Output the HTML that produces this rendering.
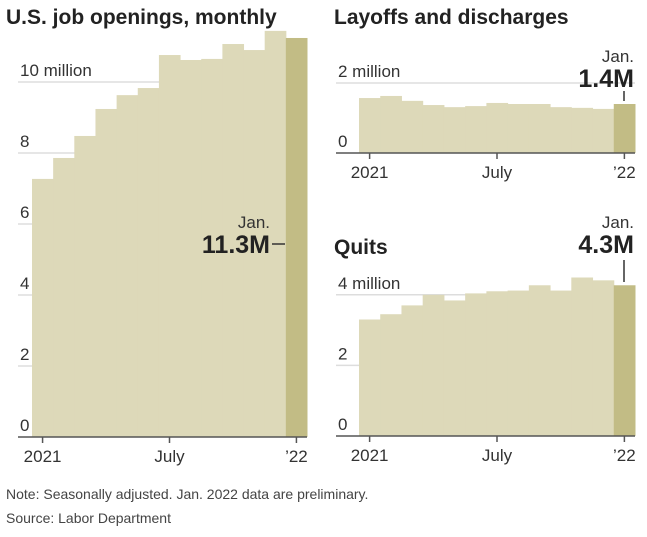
<!DOCTYPE html>
<html><head><meta charset="utf-8"><style>
body{margin:0;background:#fff;width:647px;height:537px;overflow:hidden;font-family:"Liberation Sans",sans-serif}
svg{display:block}
</style></head><body>
<svg id="c" width="647" height="537" font-family="Liberation Sans, sans-serif"></svg>
<script>
const months=["Jan","Feb","Mar","Apr","May","Jun","Jul","Aug","Sep","Oct","Nov","Dec","Jan22"];
const openings=[7.27,7.86,8.48,9.24,9.63,9.83,10.76,10.62,10.65,11.07,10.9,11.44,11.24];
const layoffs=[1.57,1.63,1.49,1.37,1.31,1.34,1.43,1.40,1.40,1.31,1.29,1.26,1.40];
const quits=[3.30,3.45,3.70,4.0,3.84,4.04,4.10,4.12,4.27,4.12,4.49,4.41,4.27];
const openTicks=[0,2,4,6,8,10];
const openTickLabels=["0","2","4","6","8","10 million"];
const layTicks=[0,2];const layTickLabels=["0","2 million"];
const quitTicks=[0,2,4];const quitTickLabels=["0","2","4 million"];
const xTickIdx=[0,6,12];const xTickLabels=["2021","July","’22"];
const NS="http://www.w3.org/2000/svg";const svg=document.getElementById('c');
function el(t,a,txt){const e=document.createElementNS(NS,t);for(const k in a)e.setAttribute(k,a[k]);if(txt!=null)e.textContent=txt;svg.appendChild(e);return e;}
function panel(p){
 const bw=(p.x1-p.x0)/p.data.length;
 const y=v=>p.base-v*p.ppu;const x=i=>p.x0+i*bw;
 p.ticks.forEach((t,i)=>{
  if(t>0){const g=el('line',{x1:p.gx,x2:p.x1,y1:y(t),y2:y(t),stroke:'#ddd','stroke-width':1.5});
  }
  const l=el('text',{x:p.gx+2,y:y(t)-6,'font-size':17,fill:'#333'},p.labels[i]);
  
 });
 p.data.forEach((v,i)=>{
  const r=el('rect',{x:x(i),y:y(v),width:bw+0.5,height:p.base-y(v),fill:i==p.data.length-1?'#c2bc85':'#ddd9b9'});
  
 });
 const ax=el('line',{x1:p.gx,x2:p.x1,y1:p.base,y2:p.base,stroke:'#555','stroke-width':1.5});
 
 xTickIdx.forEach((k,j)=>{
  const cx=x(k)+bw/2;
  const tk=el('line',{x1:cx,x2:cx,y1:p.base,y2:p.base+6,stroke:'#555','stroke-width':1.5});
  
  const tl=el('text',{x:cx,y:p.base+25,'font-size':17,fill:'#333','text-anchor':'middle'},xTickLabels[j]);
  
 });
 return {x,y,bw};
}
function title(x,yy,t,n){const e=el('text',{x:x,y:yy,'font-size':21,'font-weight':'bold',fill:'#222'},t);}
title(6,24,'U.S. job openings, monthly','title-job-openings');
title(334,24,'Layoffs and discharges','title-layoffs');
title(334,254,'Quits','title-quits');
const A=panel({data:openings,x0:32,x1:307,gx:18,base:437,ppu:35.5,ticks:openTicks,labels:openTickLabels});
const B=panel({data:layoffs,x0:359,x1:635,gx:336,base:153,ppu:35,ticks:layTicks,labels:layTickLabels});
const C=panel({data:quits,x0:359,x1:635,gx:336,base:436,ppu:35.3,ticks:quitTicks,labels:quitTickLabels});
function ann(tx,ty,val,anchor,n){
 const a=el('text',{x:tx,y:ty,'font-size':17,fill:'#333','text-anchor':anchor},'Jan.');
 const b=el('text',{x:tx,y:ty+25,'font-size':25,'font-weight':'bold',fill:'#222','text-anchor':anchor},val);
}
ann(270,228,'11.3M','end','annotation-openings');
let l1=el('line',{x1:272,x2:285,y1:244,y2:244,stroke:'#333','stroke-width':1.5});
ann(634,62,'1.4M','end','annotation-layoffs');
let l2=el('line',{x1:624,x2:624,y1:91,y2:101,stroke:'#333','stroke-width':1.5});
ann(634,228,'4.3M','end','annotation-quits');
let l3=el('line',{x1:624,x2:624,y1:260,y2:282,stroke:'#333','stroke-width':1.5});
let n1=el('text',{x:6,y:499,'font-size':14,fill:'#444'},'Note: Seasonally adjusted. Jan. 2022 data are preliminary.');
let n2=el('text',{x:6,y:523,'font-size':14,fill:'#444'},'Source: Labor Department');
</script>
</body></html>
